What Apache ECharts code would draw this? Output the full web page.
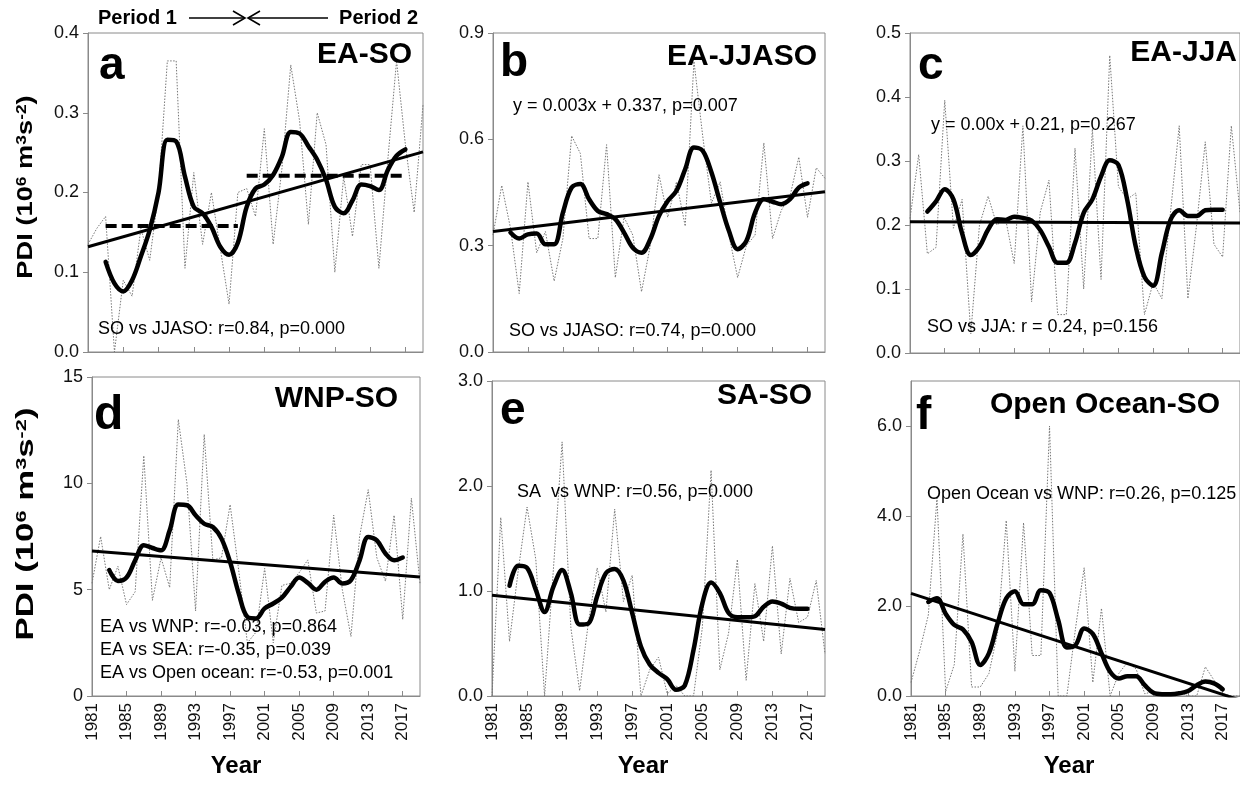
<!DOCTYPE html>
<html><head><meta charset="utf-8">
<script src="https://cdn.jsdelivr.net/npm/echarts@6/dist/echarts.min.js"></script>
<style>html,body{margin:0;padding:0;background:#fff}#c{width:1240px;height:785px}</style>
</head><body><div id="c"></div>
<script>
// ---------- data ----------
const years = ['1981','1982','1983','1984','1985','1986','1987','1988','1989','1990','1991','1992','1993','1994','1995','1996','1997','1998','1999','2000','2001','2002','2003','2004','2005','2006','2007','2008','2009','2010','2011','2012','2013','2014','2015','2016','2017','2018','2019'];
const maYears = ['1983','1984','1985','1986','1987','1988','1989','1990','1991','1992','1993','1994','1995','1996','1997','1998','1999','2000','2001','2002','2003','2004','2005','2006','2007','2008','2009','2010','2011','2012','2013','2014','2015','2016','2017'];

// annual PDI (thin dotted)
const rawA = [0.135,0.155,0.17,0.0,0.09,0.07,0.155,0.115,0.2,0.365,0.365,0.105,0.225,0.135,0.2,0.13,0.06,0.2,0.205,0.17,0.28,0.135,0.23,0.36,0.29,0.16,0.3,0.26,0.1,0.22,0.145,0.235,0.235,0.105,0.24,0.365,0.26,0.175,0.31];
const rawB = [0.33,0.47,0.35,0.165,0.48,0.28,0.34,0.2,0.32,0.61,0.56,0.32,0.32,0.585,0.21,0.38,0.33,0.17,0.3,0.5,0.38,0.48,0.355,0.82,0.61,0.42,0.48,0.33,0.21,0.3,0.33,0.59,0.32,0.4,0.44,0.55,0.38,0.52,0.49];
const rawC = [0.21,0.31,0.155,0.165,0.395,0.195,0.24,0.03,0.2,0.245,0.2,0.21,0.14,0.355,0.08,0.22,0.27,0.06,0.06,0.32,0.1,0.35,0.115,0.465,0.26,0.24,0.25,0.06,0.11,0.085,0.22,0.355,0.085,0.2,0.33,0.17,0.15,0.355,0.22];
const rawD = [5.3,7.5,5.0,6.1,4.3,4.9,11.3,4.5,6.5,5.1,13.0,10.0,4.0,12.3,6.4,6.5,9.0,5.9,2.5,3.0,6.0,2.5,5.2,5.3,5.8,6.4,3.9,4.0,8.5,5.0,2.8,7.5,9.7,6.5,5.4,8.5,3.6,9.3,5.3];
const rawE = [0.0,1.7,0.52,1.2,1.8,1.3,0.0,1.2,2.42,0.65,0.05,0.7,1.22,0.8,1.78,0.9,1.15,0.0,0.25,0.37,0.02,0.1,0.0,0.0,0.65,2.15,0.25,0.6,1.3,0.15,1.07,0.52,1.43,0.4,1.12,0.7,0.75,1.1,0.4];
const rawF = [0.3,1.0,1.8,4.4,0.1,0.7,3.6,0.2,0.2,0.5,1.4,3.9,0.55,3.85,0.9,0.9,6.0,0.0,0.0,1.5,2.85,0.3,1.95,0.0,0.5,0.75,0.6,0.05,0.1,0.0,0.05,0.1,0.0,0.0,0.65,0.35,0.05,0.0,0.0];

// 5-year running mean (thick)
const maA = [0.113,0.086,0.076,0.09,0.12,0.153,0.2,0.266,0.264,0.22,0.182,0.174,0.157,0.132,0.122,0.137,0.182,0.205,0.21,0.222,0.245,0.276,0.274,0.258,0.241,0.216,0.182,0.174,0.19,0.21,0.208,0.203,0.228,0.246,0.254];
const maB = [0.337,0.32,0.332,0.334,0.304,0.304,0.393,0.464,0.474,0.431,0.398,0.389,0.375,0.337,0.294,0.28,0.318,0.384,0.426,0.455,0.516,0.577,0.568,0.507,0.422,0.342,0.29,0.313,0.393,0.431,0.424,0.417,0.431,0.464,0.476];
const maC = [0.221,0.237,0.256,0.24,0.187,0.153,0.166,0.193,0.209,0.208,0.213,0.211,0.207,0.192,0.166,0.141,0.141,0.172,0.219,0.24,0.276,0.301,0.294,0.24,0.166,0.119,0.105,0.156,0.208,0.223,0.214,0.214,0.223,0.224,0.224];
const maD = [5.92,5.41,5.57,6.38,7.09,6.96,6.85,7.79,9.0,8.97,8.5,8.1,7.95,7.4,6.3,4.82,3.72,3.65,4.12,4.35,4.63,5.13,5.57,5.32,5.0,5.37,5.57,5.29,5.45,6.38,7.48,7.32,6.7,6.38,6.51];
const maE = [1.05,1.24,1.22,1.01,0.8,1.04,1.2,0.98,0.68,0.69,0.95,1.17,1.21,1.1,0.79,0.47,0.3,0.22,0.16,0.06,0.1,0.44,0.88,1.08,0.98,0.79,0.75,0.75,0.76,0.85,0.9,0.88,0.84,0.83,0.83];
const maF = [2.09,2.17,1.83,1.58,1.48,1.2,0.69,0.95,1.61,2.17,2.33,2.04,2.04,2.35,2.29,1.69,1.08,1.13,1.5,1.38,0.95,0.54,0.39,0.44,0.44,0.24,0.07,0.04,0.04,0.06,0.11,0.24,0.32,0.28,0.15];

// linear trend end values at 1981 and 2019
const trendYears = ['1981','2019'];
const trendA = [0.132,0.251];
const trendB = [0.34,0.452];
const trendC = [0.205,0.203];
const trendD = [6.82,5.6];
const trendE = [0.96,0.634];
const trendF = [2.28,-0.09];

// period means (panel a)
const period1Years = ['1983','1998'];
const period1Mean = 0.158;
const period2Years = ['1999','2017'];
const period2Mean = 0.221;

// y-axis ticks
const yTicksA = {max:0.4, interval:0.1, dec:1};
const yTicksB = {max:0.9, interval:0.3, dec:1};
const yTicksC = {max:0.5, interval:0.1, dec:1};
const yTicksD = {max:15, interval:5, dec:0};
const yTicksE = {max:3, interval:1, dec:1};
const yTicksF = {max:7, interval:2, dec:1};

// ---------- chart ----------
const FONT = "'Liberation Sans', Arial, sans-serif";
const NARROW = "'Liberation Sans Narrow', 'Liberation Sans', Arial, sans-serif";
const AXC = '#8a8a8a';

const panels = [
  {grid:{left:88, top:33, width:335, height:319}, y:yTicksA, raw:rawA, ma:maA, tr:trendA, bottom:false},
  {grid:{left:493, top:33, width:332, height:319}, y:yTicksB, raw:rawB, ma:maB, tr:trendB, bottom:false},
  {grid:{left:910, top:33, width:331, height:320}, y:yTicksC, raw:rawC, ma:maC, tr:trendC, bottom:false},
  {grid:{left:92, top:377, width:328, height:319}, y:yTicksD, raw:rawD, ma:maD, tr:trendD, bottom:true},
  {grid:{left:492, top:381, width:333, height:315}, y:yTicksE, raw:rawE, ma:maE, tr:trendE, bottom:true},
  {grid:{left:911, top:381, width:330, height:315}, y:yTicksF, raw:rawF, ma:maF, tr:trendF, bottom:true}
];

const grids = [], xAxes = [], yAxes = [], series = [];
panels.forEach((p, i) => {
  grids.push(Object.assign({show:true, borderColor:AXC, borderWidth:1, containLabel:false}, p.grid));
  xAxes.push({
    type:'category', gridIndex:i, data:years, boundaryGap:false,
    axisLine:{show:true, lineStyle:{color:AXC, width:1}},
    axisTick:{show:true, inside:true, length:5, interval:3, lineStyle:{color:AXC}},
    axisLabel:{show:p.bottom, interval:3, rotate:90, margin:7, fontSize:17, fontFamily:NARROW, color:'#111'},
    splitLine:{show:false}
  });
  const exact = Math.abs(p.y.max / p.y.interval - Math.round(p.y.max / p.y.interval)) < 1e-9;
  yAxes.push({
    type:'value', gridIndex:i, min:0, max:p.y.max, interval:p.y.interval,
    axisLine:{show:true, lineStyle:{color:AXC, width:1}},
    axisTick:{show:true, inside:false, length:5, lineStyle:{color:AXC}},
    axisLabel:{margin:9, fontSize:18, fontFamily:FONT, color:'#111', showMaxLabel: exact,
      formatter:(v)=>Number(v).toFixed(p.y.dec)},
    splitLine:{show:false}
  });
  series.push({type:'line', xAxisIndex:i, yAxisIndex:i, data:p.raw, symbol:'none', z:1,
    lineStyle:{color:'#777', width:1, type:[1.5,1.5]}, silent:true});
  series.push({type:'line', xAxisIndex:i, yAxisIndex:i, data:trendYears.map((y,k)=>[y,p.tr[k]]), symbol:'none', z:3,
    lineStyle:{color:'#000', width:3}, silent:true, clip:true});
  series.push({type:'line', xAxisIndex:i, yAxisIndex:i, data:maYears.map((y,k)=>[y,p.ma[k]]), symbol:'none', z:4, smooth:0.35,
    lineStyle:{color:'#000', width:4.5, join:'round', cap:'round'}, silent:true});
});
series.push({type:'line', xAxisIndex:0, yAxisIndex:0, data:period1Years.map(y=>[y,period1Mean]), symbol:'none', z:2,
  lineStyle:{color:'#000', width:4, type:[11,5]}, silent:true});
series.push({type:'line', xAxisIndex:0, yAxisIndex:0, data:period2Years.map(y=>[y,period2Mean]), symbol:'none', z:2,
  lineStyle:{color:'#000', width:4, type:[11,5]}, silent:true});

function txt(x, y, s, size, opts) {
  opts = opts || {};
  return {type:'text', x:x, y:y, z:100, silent:true,
    style:{text:s, fontSize:size, fontFamily:FONT, fontWeight:opts.bold?'bold':'normal', fill:'#000',
      align:opts.align||'left', verticalAlign:'middle'}};
}
function ylabel(x, y, size, sup, sx) {
  return {type:'text', x:x, y:y, z:100, rotation:Math.PI/2, scaleX:sx, silent:true,
    style:{text:'{b|PDI (10}{s|6}{b| m}{s|3}{b|s}{s|-2}{b|)}', align:'center', verticalAlign:'middle', fill:'#000',
      rich:{b:{fontSize:size, fontWeight:'bold', fontFamily:FONT, fill:'#000', lineHeight:size},
            s:{fontSize:sup, fontWeight:'bold', fontFamily:FONT, fill:'#000', verticalAlign:'top', lineHeight:size}}}};
}

const graphics = [
  // header
  txt(98, 18, 'Period 1', 20, {bold:true}),
  txt(418, 18, 'Period 2', 20, {bold:true, align:'right'}),
  {type:'polyline', z:100, shape:{points:[[189,18],[245,18]]}, style:{stroke:'#000', lineWidth:1.6, fill:null}},
  {type:'polyline', z:100, shape:{points:[[233,11],[245,18],[233,25]]}, style:{stroke:'#000', lineWidth:1.6, fill:null}},
  {type:'polyline', z:100, shape:{points:[[248,18],[328,18]]}, style:{stroke:'#000', lineWidth:1.6, fill:null}},
  {type:'polyline', z:100, shape:{points:[[260,11],[248,18],[260,25]]}, style:{stroke:'#000', lineWidth:1.6, fill:null}},
  // y titles
  ylabel(26, 187, 22, 14, 1.24),
  ylabel(26, 524, 24, 15, 1.45),
  // letters
  txt(99, 66, 'a', 46, {bold:true}),
  txt(500, 63, 'b', 46, {bold:true}),
  txt(918, 66, 'c', 46, {bold:true}),
  txt(94, 416, 'd', 48, {bold:true}),
  txt(500, 411, 'e', 46, {bold:true}),
  txt(916, 416, 'f', 46, {bold:true}),
  // titles
  txt(412, 55, 'EA-SO', 30, {bold:true, align:'right'}),
  txt(817, 57, 'EA-JJASO', 30, {bold:true, align:'right'}),
  txt(1237, 53, 'EA-JJA', 30, {bold:true, align:'right'}),
  txt(398, 399, 'WNP-SO', 30, {bold:true, align:'right'}),
  txt(812, 396, 'SA-SO', 30, {bold:true, align:'right'}),
  txt(1220, 405, 'Open Ocean-SO', 30, {bold:true, align:'right'}),
  // annotations
  txt(98, 329, 'SO vs JJASO: r=0.84, p=0.000', 18),
  txt(513, 106, 'y = 0.003x + 0.337, p=0.007', 18),
  txt(509, 331, 'SO vs JJASO: r=0.74, p=0.000', 18),
  txt(931, 125, 'y = 0.00x + 0.21, p=0.267', 18),
  txt(927, 327, 'SO vs JJA: r = 0.24, p=0.156', 18),
  txt(100, 627, 'EA vs WNP: r=-0.03, p=0.864', 18),
  txt(100, 650, 'EA vs SEA: r=-0.35, p=0.039', 18),
  txt(100, 673, 'EA vs Open ocean: r=-0.53, p=0.001', 18),
  txt(517, 492, 'SA  vs WNP: r=0.56, p=0.000', 18),
  txt(927, 494, 'Open Ocean vs WNP: r=0.26, p=0.125', 18),
  // Year
  txt(236, 766, 'Year', 24, {bold:true, align:'center'}),
  txt(643, 766, 'Year', 24, {bold:true, align:'center'}),
  txt(1069, 766, 'Year', 24, {bold:true, align:'center'})
];

const chart = echarts.init(document.getElementById('c'), null, {renderer:'canvas', width:1240, height:785});
chart.setOption({
  animation:false,
  backgroundColor:'#fff',
  textStyle:{fontFamily:FONT},
  grid:grids, xAxis:xAxes, yAxis:yAxes, series:series, graphic:graphics
});
</script></body></html>
